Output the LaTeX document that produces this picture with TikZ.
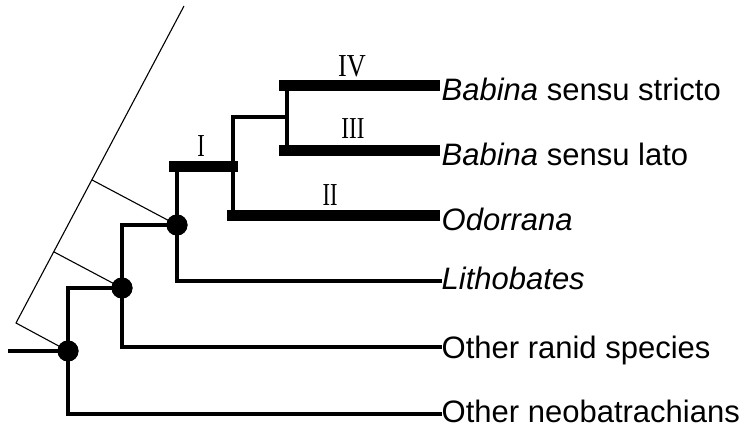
\documentclass[tikz,border=0pt]{standalone}
\usepackage{fontspec}
\setmainfont{Liberation Sans}
\newfontfamily\numfont{Liberation Serif}
\usetikzlibrary{calc}
\tikzset{
	br/.style={line width=4pt, line cap=rect},
	bar/.style={line width=11pt},
	axis/.style={line width=1.1pt},
	dot/.style={circle, fill, inner sep=0, minimum size=21pt},
	leaf/.style={anchor=base west, inner sep=1.5pt, font=\fontsize{31}{31}\selectfont},
	num/.style={inner sep=0, font=\numfont\fontsize{32}{32}\selectfont}
}
\begin{document}
\begin{tikzpicture}[x=1pt, y=-1pt]
	\useasboundingbox (0,0) rectangle (745,431);
	% Nodes:
	\coordinate (root) at (10,351);
	\node[dot] (n1) at (68,351) {};
	\node[dot] (n2) at (122,288) {};
	\node[dot] (n3) at (177,225) {};
	\coordinate (n4) at (233,166);
	\coordinate (n5) at (287,117);
	% Tips and their labels:
	\coordinate (t1) at (440,85);
	\coordinate (t2) at (440,150);
	\coordinate (t3) at (440,215);
	\coordinate (t4) at (440,281);
	\coordinate (t5) at (440,347);
	\coordinate (t6) at (440,414);
	\node[leaf] (l1) at ([yshift=-15pt]t1) {\textit{Babina} sensu stricto};
	\node[leaf] (l2) at ([yshift=-15pt]t2) {\textit{Babina} sensu lato};
	\node[leaf] (l3) at ([yshift=-15pt]t3) {\textit{Odorrana}};
	\node[leaf] (l4) at ([yshift=-8pt]t4) {\textit{Lithobates}};
	\node[leaf] (l5) at ([yshift=-11pt]t5) {Other ranid species};
	\node[leaf] (l6) at ([yshift=-8pt]t6) {Other neobatrachians};
	% Time axis and ticks:
	\coordinate (top) at (184,6);
	\coordinate (bot) at (16,323);
	\draw[axis] (top) -- (bot) -- (n1.center);
	\draw[axis] ($(top)!(n2)!(bot)$) -- (n2.center);
	\draw[axis] ($(top)!(n3)!(bot)$) -- (n3.center);
	% Paths and wires:
	\draw[br] (root) -- (n1.center);
	\draw[br] (n2.center) -- (n2.center -| n1) -- (n1 |- t6) -- (t6);
	\draw[br] (n3.center) -- (n3.center -| n2) -- (n2 |- t5) -- (t5);
	\draw[br] (n3 |- n4) -- (n3 |- t4) -- (t4);
	\draw[br] (n5) -- (n4 |- n5) -- (n4 |- t3);
	\draw[br] (n5 |- t1) -- (n5 |- t2);
	\draw[bar] ([xshift=-8pt]n3 |- n4) -- ([xshift=5pt]n4);
	\draw[bar] ([xshift=-6pt]n4 |- t3) -- (t3);
	\draw[bar] ([xshift=-8pt]n5 |- t1) -- (t1);
	\draw[bar] ([xshift=-8pt]n5 |- t2) -- (t2);
	\node[dot] at (n1) {};
	\node[dot] at (n2) {};
	\node[dot] at (n3) {};
	% Clade labels:
	\node[num] (cI) at (201,146) {\scalebox{0.7}[1]{I}};
	\node[num] (cII) at (330,195) {\scalebox{0.7}[1]{II}};
	\node[num] (cIII) at (353,129) {\scalebox{0.72}[0.95]{III}};
	\node[num] (cIV) at (352,66) {\scalebox{0.82}[1]{IV}};
\end{tikzpicture}
\end{document}
